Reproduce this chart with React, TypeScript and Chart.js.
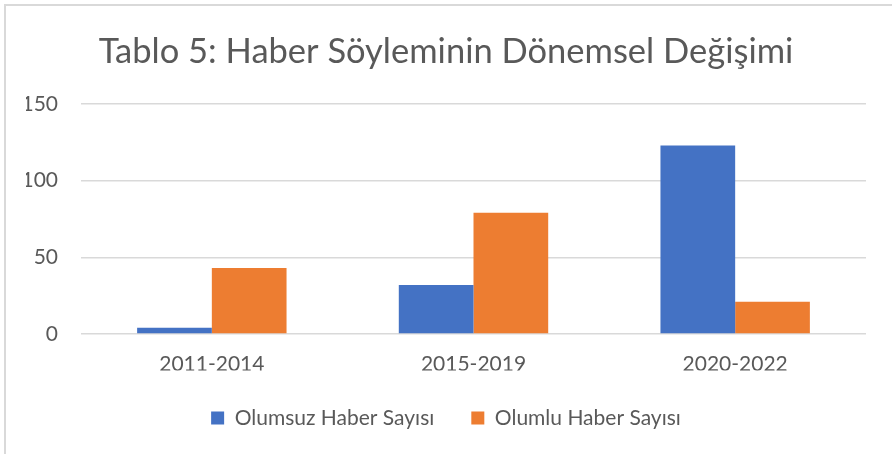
import React, { useEffect, useRef } from "react";
import { Chart, registerables } from "chart.js";

Chart.register(...registerables);

const titleText = "Tablo 5: Haber Söyleminin Dönemsel Değişimi";
const categories = ["2011-2014", "2015-2019", "2020-2022"];
const seriesLabels = ["Olumsuz Haber Sayısı", "Olumlu Haber Sayısı"];
const negativeNews = [4, 32, 123];
const positiveNews = [43, 79, 21];
const yMin = 0;
const yMax = 150;
const yStep = 50;

const BLUE = "#4472C4";
const ORANGE = "#ED7D31";
const TEXT = "#595959";
const GRID = "#D9D9D9";
const FONT = "Lato, 'Open Sans', sans-serif";

export default function App() {
  const canvasRef = useRef<HTMLCanvasElement | null>(null);

  useEffect(() => {
    const canvas = canvasRef.current;
    if (!canvas) return;
    const chart = new Chart(canvas, {
      type: "bar",
      data: {
        labels: categories,
        datasets: [
          {
            label: seriesLabels[0],
            data: negativeNews,
            backgroundColor: BLUE,
            borderWidth: 0,
            categoryPercentage: 0.571,
            barPercentage: 1,
          },
          {
            label: seriesLabels[1],
            data: positiveNews,
            backgroundColor: ORANGE,
            borderWidth: 0,
            categoryPercentage: 0.571,
            barPercentage: 1,
          },
        ],
      },
      options: {
        responsive: false,
        animation: false,
        maintainAspectRatio: false,
        layout: { padding: { left: 26, right: 26, top: 0, bottom: 15.5 } },
        plugins: {
          title: {
            display: true,
            text: titleText,
            color: TEXT,
            font: { family: FONT, size: 34.5, weight: "normal" },
            padding: { top: 31, bottom: 31.6 },
          },
          legend: {
            display: true,
            position: "bottom",
            labels: {
              color: TEXT,
              font: { family: FONT, size: 21 },
              boxWidth: 13,
              boxHeight: 13,
              padding: 37,
            },
          },
          tooltip: { enabled: false },
        },
        scales: {
          x: {
            grid: { display: false, drawTicks: false },
            border: { display: false },
            ticks: {
              color: TEXT,
              font: { family: FONT, size: 21 },
              padding: 18,
            },
            afterFit: (scale: any) => {
              scale.height = 36.5;
            },
          },
          y: {
            min: yMin,
            max: yMax,
            grid: { color: GRID, lineWidth: 1.5, drawTicks: false },
            border: { display: false },
            ticks: {
              stepSize: yStep,
              color: TEXT,
              font: { family: FONT, size: 21 },
              padding: 23,
            },
            afterFit: (scale: any) => {
              scale.width = 55;
            },
          },
        },
      },
    });
    return () => chart.destroy();
  }, []);

  return (
    <div
      style={{
        position: "fixed",
        left: 0,
        top: 0,
        width: 892,
        height: 454,
        background: "#fff",
        overflow: "hidden",
      }}
    >
      <div
        style={{
          position: "absolute",
          left: 4,
          top: 4,
          width: 900,
          height: 460,
          borderTop: "2px solid #D9D9D9",
          borderLeft: "2px solid #D9D9D9",
        }}
      />
      <canvas
        ref={canvasRef}
        width={892}
        height={454}
        style={{ position: "absolute", left: 0, top: 0, width: 892, height: 454 }}
      />
    </div>
  );
}
